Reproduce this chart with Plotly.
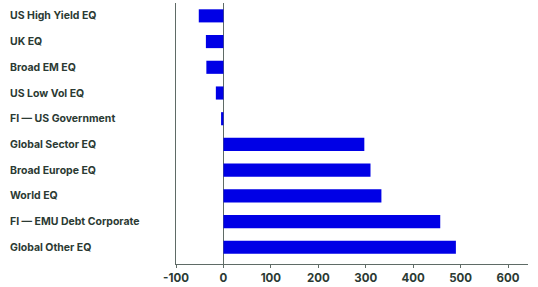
import plotly.graph_objects as go

categories = ["US High Yield EQ", "UK EQ", "Broad EM EQ", "US Low Vol EQ", "FI — US Government",
              "Global Sector EQ", "Broad Europe EQ", "World EQ", "FI — EMU Debt Corporate", "Global Other EQ"]
values = [-52, -37, -36, -16, -5, 297, 310, 333, 457, 490]
tick_vals = [-100, 0, 100, 200, 300, 400, 500, 600]
tick_text = ["-100", "0", "100", "200", "300", "400", "500", "600"]

TEXT = "#2b3a33"
FONT = "Inter, Liberation Sans, sans-serif"

fig = go.Figure(go.Bar(
    x=values, y=categories, orientation="h",
    marker=dict(color="#0000e6", line=dict(width=0)),
))

annotations = [dict(x=-0.477, xref="paper", y=c, yref="y", text="<b>%s</b>" % c,
                    showarrow=False, xanchor="left", yanchor="middle",
                    font=dict(family=FONT, size=10.5, color=TEXT)) for c in categories]

fig.update_layout(
    width=538, height=287,
    margin=dict(l=176, r=10, t=3, b=23),
    plot_bgcolor="white", paper_bgcolor="white",
    bargap=0.49, showlegend=False,
    annotations=annotations,
    xaxis=dict(range=[-100, 642], tickvals=tick_vals, ticktext=tick_text, showgrid=False,
               zeroline=True, zerolinecolor="#5f6b66", zerolinewidth=1,
               showline=True, linecolor="#5f6b66", linewidth=1,
               ticks="outside", ticklen=3, tickcolor="#5f6b66",
               tickfont=dict(family=FONT, size=11.5, color=TEXT, weight="bold")),
    yaxis=dict(categoryorder="array", categoryarray=categories, range=[9.65, -0.5],
               showticklabels=False, showgrid=False, zeroline=False,
               showline=True, linecolor="#5f6b66", linewidth=1, ticks=""),
)

fig.write_html("out.html")
